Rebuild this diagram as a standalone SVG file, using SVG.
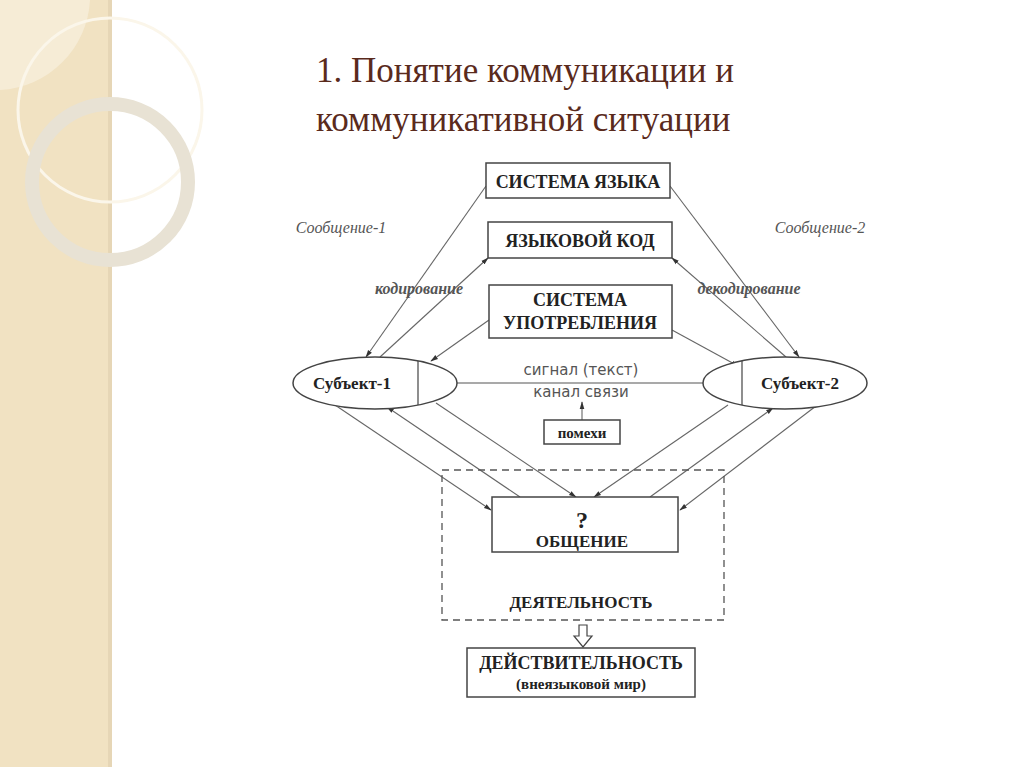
<svg xmlns="http://www.w3.org/2000/svg" width="1024" height="767" viewBox="0 0 1024 767">
<defs>
<marker id="ah" viewBox="0 0 10 10" refX="9" refY="5" markerWidth="7" markerHeight="7" orient="auto-start-reverse"><path d="M0,2 L10,5 L0,8 Z" fill="#333"/></marker>
<style>
.b{fill:#fff;stroke:#444;stroke-width:1.5}
.c{stroke:#666;stroke-width:1.1;fill:none;marker-end:url(#ah)}
.t{font-family:"Liberation Serif",serif;font-weight:bold;fill:#222;text-anchor:middle}
.i{font-family:"Liberation Serif",serif;font-style:italic;fill:#555;font-size:16px;text-anchor:middle}
.s{font-family:"DejaVu Sans",sans-serif;fill:#555;font-size:15px;text-anchor:middle}
</style>
</defs>
<rect width="1024" height="767" fill="#fff"/>
<g id="band">
<rect width="110" height="767" fill="#f1e2c2"/>
<rect x="108" width="4" height="767" fill="#e6d6b6"/>
<path d="M0,90 A95,95 0 0 0 90,0 L0,0 Z" fill="#f6ecd6"/>
<circle cx="110" cy="110" r="92" fill="none" stroke="#fbf6ea" stroke-width="3"/>
<circle cx="110" cy="182" r="78" fill="none" stroke="#e8e2d4" stroke-width="14"/>
</g>
<g id="title" font-family="Liberation Serif, serif" font-size="35" fill="#5a2a1c">
<text x="316" y="82">1. Понятие коммуникации и</text>
<text x="316" y="131">коммуникативной ситуации</text>
</g>
<g id="connectors">
<path class="c" d="M486,186 L366,357"/>
<path class="c" d="M380,357 L488,258"/>
<path class="c" d="M670,186 L799,357"/>
<path class="c" d="M786,357 L672,258"/>
<path class="c" d="M489,320 L431,361"/>
<path class="c" d="M672,330 L738,366"/>
<line x1="457" y1="383" x2="705" y2="383" stroke="#555" stroke-width="1.2"/>
<path class="c" d="M582,420 L582,402"/>
<path class="c" d="M335,405 L491,510"/>
<path class="c" d="M520,497 L387,407"/>
<path class="c" d="M436,403 L576,497"/>
<path class="c" d="M728,405 L594,497"/>
<path class="c" d="M650,497 L773,408"/>
<path class="c" d="M816,406 L680,510"/>
</g>
<g id="sistema-yazyka"><rect class="b" x="486" y="163" width="184" height="35"/><text class="t" x="578" y="188" font-size="18">СИСТЕМА ЯЗЫКА</text></g>
<g id="yazykovoy-kod"><rect class="b" x="488" y="222" width="184" height="36"/><text class="t" x="580" y="247" font-size="18">ЯЗЫКОВОЙ КОД</text></g>
<g id="sistema-upotr"><rect class="b" x="489" y="285" width="183" height="53"/><text class="t" x="580" y="306" font-size="18">СИСТЕМА</text><text class="t" x="580" y="329" font-size="18">УПОТРЕБЛЕНИЯ</text></g>
<g id="subj1"><ellipse class="b" cx="375" cy="383" rx="82" ry="26"/><line x1="418" y1="361" x2="418" y2="405" stroke="#444" stroke-width="1.2"/><text class="t" x="352" y="389" font-size="17">Субъект-1</text></g>
<g id="subj2"><ellipse class="b" cx="785" cy="383" rx="82" ry="26"/><line x1="742" y1="361" x2="742" y2="405" stroke="#444" stroke-width="1.2"/><text class="t" x="800" y="389" font-size="17">Субъект-2</text></g>
<g id="signal"><text class="s" x="581" y="375">сигнал  (текст)</text><text class="s" x="581" y="397">канал  связи</text></g>
<g id="pomehi"><rect class="b" x="544" y="420" width="76" height="24"/><text class="t" x="582" y="438" font-size="15">помехи</text></g>
<g id="labels">
<text class="i" x="341" y="233">Сообщение-1</text>
<text class="i" x="820" y="233">Сообщение-2</text>
<text class="i" x="419" y="294" font-weight="bold" fill="#333" font-size="15">кодирование</text>
<text class="i" x="749" y="294" font-weight="bold" fill="#333" font-size="15">декодирование</text>
</g>
<g id="deyatelnost"><rect x="442" y="470" width="282" height="150" fill="none" stroke="#555" stroke-width="1.3" stroke-dasharray="7,5"/><text class="t" x="581" y="608" font-size="17">ДЕЯТЕЛЬНОСТЬ</text></g>
<g id="obshchenie"><rect class="b" x="492" y="497" width="186" height="55"/><text class="t" x="582" y="528" font-size="24">?</text><text class="t" x="582" y="547" font-size="17">ОБЩЕНИЕ</text></g>
<g id="arrow-down"><path d="M579,625 L587,625 L587,636 L592,636 L583,647 L574,636 L579,636 Z" fill="#fff" stroke="#444" stroke-width="1.2"/></g>
<g id="deystvitelnost"><rect class="b" x="467" y="648" width="228" height="49"/><text class="t" x="581" y="669" font-size="18">ДЕЙСТВИТЕЛЬНОСТЬ</text><text class="t" x="581" y="689" font-size="15">(внеязыковой мир)</text></g>
</svg>
